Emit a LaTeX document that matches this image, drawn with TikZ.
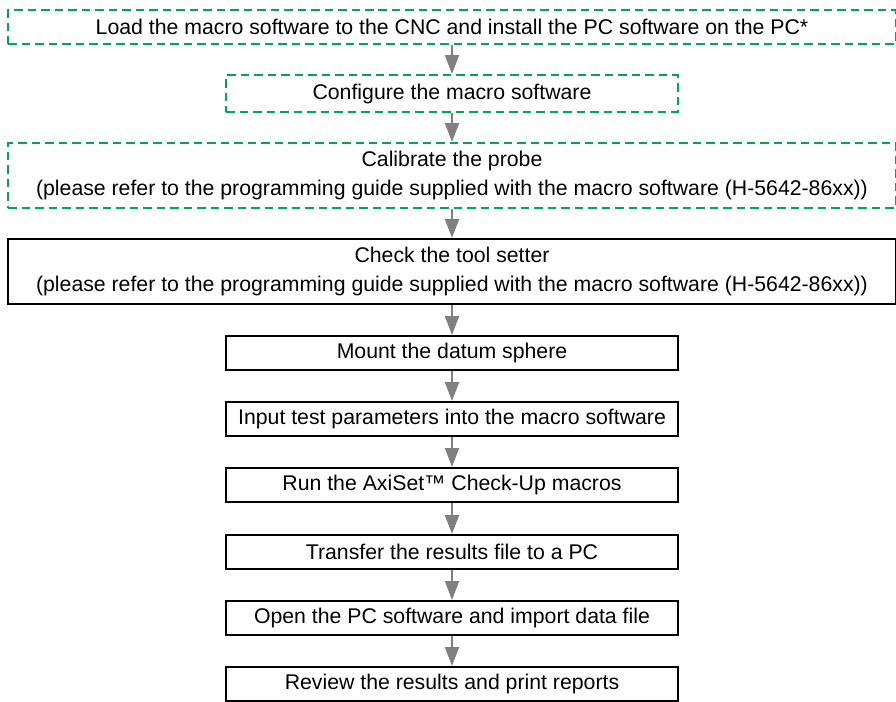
\documentclass[tikz,border=0pt]{standalone}
\usepackage{fontspec}
\setmainfont{Liberation Sans}
\usetikzlibrary{arrows.meta}

\definecolor{stepgreen}{RGB}{0,166,81}

\begin{document}
\begin{tikzpicture}[x=0.02cm, y=-0.02cm,
                    every task box/.style = {},
                    task box/.style = {rectangle, line width=0.04cm, inner sep=0pt, align=center,
                                       font=\fontsize{12.1}{17}\selectfont, every task box},
                    setup box/.style = {draw=stepgreen, line width=0.05cm, dash pattern=on 0.17cm off 0.1cm, task box},
                    check box/.style = {draw=black, task box},
                    wide box/.style = {minimum width=17.76cm},
                    narrow box/.style = {minimum width=9.04cm},
                    flow arrow/.style = {draw=black!50, line width=0.04cm,
                                         -{Triangle[length=0.38cm, width=0.28cm]}}]
                \useasboundingbox (0,0) rectangle (896,701);
                % set-up steps, dashed
                \node at (452,27) [setup box, wide box, minimum height=0.68cm] (load) {Load the macro software to the CNC and install the PC software on the PC*};
                \node at (452,93.5) [setup box, narrow box, minimum height=0.74cm] (configure) {Configure the macro software};
                \node at (452,175.5) [setup box, wide box, minimum height=1.3cm] (calibrate) {Calibrate the probe\\(please refer to the programming guide supplied with the macro software (H-5642-86xx))};
                % test steps
                \node at (452,271.5) [check box, wide box, minimum height=1.3cm] (toolsetter) {Check the tool setter\\(please refer to the programming guide supplied with the macro software (H-5642-86xx))};
                \node at (452,353) [check box, narrow box, minimum height=0.68cm] (sphere) {Mount the datum sphere};
                \node at (452,419) [check box, narrow box, minimum height=0.68cm] (params) {Input test parameters into the macro software};
                \node at (452,485) [check box, narrow box, minimum height=0.68cm] (run) {Run the AxiSet™ Check-Up macros};
                \node at (452,552) [check box, narrow box, minimum height=0.68cm] (transfer) {Transfer the results file to a PC};
                \node at (452,618) [check box, narrow box, minimum height=0.68cm] (import) {Open the PC software and import data file};
                \node at (452,684) [check box, narrow box, minimum height=0.68cm] (review) {Review the results and print reports};
                % arrows
                \draw[flow arrow] (load) -- (configure);
                \draw[flow arrow] (configure) -- (calibrate);
                \draw[flow arrow] (calibrate) -- (toolsetter);
                \draw[flow arrow] (toolsetter) -- (sphere);
                \draw[flow arrow] (sphere) -- (params);
                \draw[flow arrow] (params) -- (run);
                \draw[flow arrow] (run) -- (transfer);
                \draw[flow arrow] (transfer) -- (import);
                \draw[flow arrow] (import) -- (review);
            \end{tikzpicture}
\end{document}
